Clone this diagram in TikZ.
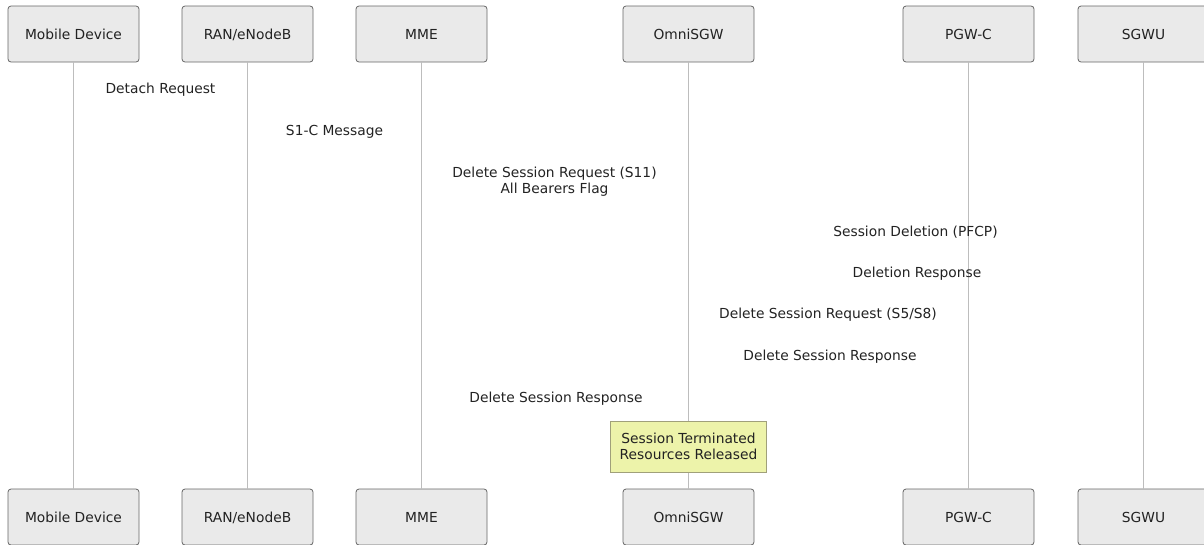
\documentclass[tikz,border=0pt]{standalone}
\usepackage{fontspec}
\setmainfont{DejaVu Sans}
\usetikzlibrary{positioning,calc}
\definecolor{actorFill}{HTML}{EAEAEA}
\definecolor{actorLine}{HTML}{666666}
\definecolor{lifeColor}{HTML}{BDBDBD}
\definecolor{noteFill}{HTML}{EDF3AA}
\definecolor{noteLine}{HTML}{A0A07A}
\definecolor{txtColor}{HTML}{222222}
\newcommand{\txt}{\fontsize{13.8}{16}\selectfont}

\begin{document}
\begin{tikzpicture}[x=1pt,y=-1pt,font=\txt,text=txtColor,
					actor/.style={draw=actorLine, fill=actorFill, rounded corners=3pt, line width=0.8pt,
						minimum width=131pt, minimum height=56pt, inner sep=0, text depth=0pt},
					lifeline/.style={draw=lifeColor, line width=1pt},
					msg/.style={inner sep=0, align=center},
					note/.style={draw=noteLine, fill=noteFill, line width=0.8pt, align=center,
						minimum width=156pt, minimum height=51pt, inner sep=0}]
					\useasboundingbox (0,0) rectangle (1204,544);
					% participants on top
					\node[actor] (md) at (73.5, 34) {Mobile Device};
					\node[actor] (ran) at (247.5, 34) {RAN/eNodeB};
					\node[actor] (mme) at (421.5, 34) {MME};
					\node[actor] (sgw) at (688.5, 34) {OmniSGW};
					\node[actor] (pgw) at (968.5, 34) {PGW-C};
					\node[actor] (sgwu) at (1143.5, 34) {SGWU};
					% participants at the bottom
					\node[actor] (mdB) at (73.5, 517) {Mobile Device};
					\node[actor] (ranB) at (247.5, 517) {RAN/eNodeB};
					\node[actor] (mmeB) at (421.5, 517) {MME};
					\node[actor] (sgwB) at (688.5, 517) {OmniSGW};
					\node[actor] (pgwB) at (968.5, 517) {PGW-C};
					\node[actor] (sgwuB) at (1143.5, 517) {SGWU};
					% lifelines
					\path[lifeline] (md) -- (mdB);
					\path[lifeline] (ran) -- (ranB);
					\path[lifeline] (mme) -- (mmeB);
					\path[lifeline] (sgw) -- (sgwB);
					\path[lifeline] (pgw) -- (pgwB);
					\path[lifeline] (sgwu) -- (sgwuB);
					% messages
					\node[msg] (detach) at (160.5, 90) {Detach Request};
					\node[msg] (sonec) at (334.5, 132) {S1-C Message};
					\node[msg] (delreq) at (554.5, 182) {Delete Session Request (S11)\\All Bearers Flag};
					\node[msg] (pfcp) at (915.5, 232) {Session Deletion (PFCP)};
					\node[msg] (pfcpresp) at (917, 274) {Deletion Response};
					\node[msg] (delreqS) at (828, 315) {Delete Session Request (S5/S8)};
					\node[msg] (delrespS) at (830, 357) {Delete Session Response};
					\node[msg] (delresp) at (556, 399) {Delete Session Response};
					%\path (md) edge (ran);
					\node[note] (done) at (688.5, 446.5) {Session Terminated\\Resources Released};
				\end{tikzpicture}
\end{document}
